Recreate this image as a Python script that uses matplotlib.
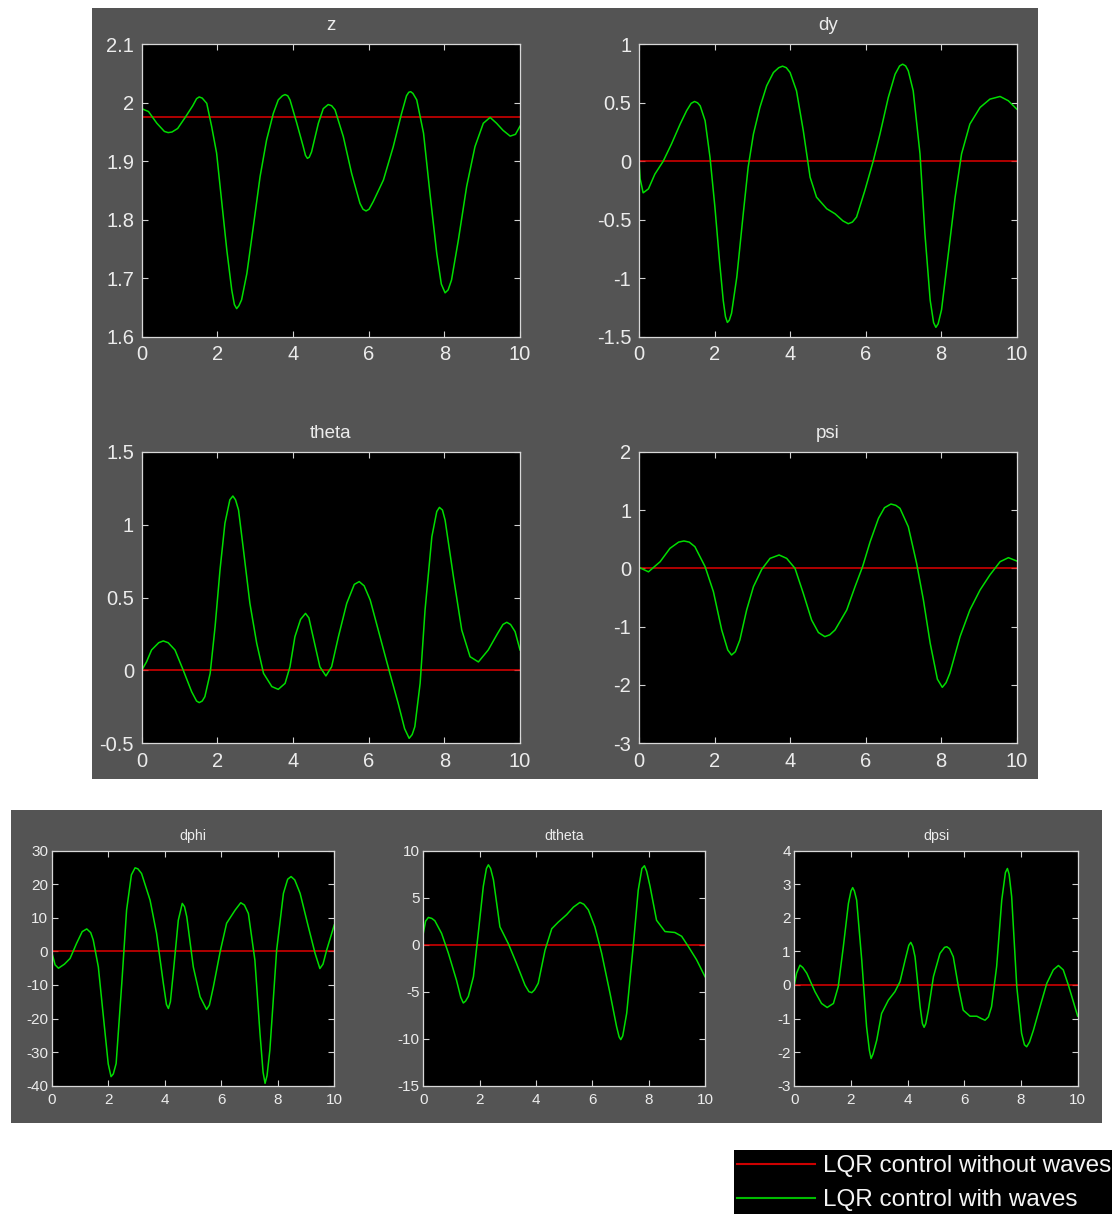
import matplotlib.pyplot as plt
from matplotlib.patches import Rectangle
from matplotlib.lines import Line2D
from matplotlib.ticker import FormatStrFormatter

plt.rcParams['font.family'] = ['Liberation Sans', 'DejaVu Sans']
plt.rcParams['axes.unicode_minus'] = False

# ---- data: (time s, value) ----
z_pts = [(0, 1.990), (0.18, 1.985), (0.40, 1.965), (0.60, 1.951), (0.70, 1.949), (0.80, 1.950), (0.95, 1.956), (1.15, 1.975),
         (1.35, 1.995), (1.45, 2.007), (1.52, 2.010), (1.60, 2.008), (1.72, 1.999), (1.85, 1.959), (1.98, 1.914), (2.11, 1.834),
         (2.25, 1.748), (2.38, 1.680), (2.45, 1.655), (2.51, 1.648), (2.57, 1.653), (2.64, 1.663), (2.78, 1.708), (2.95, 1.788),
         (3.13, 1.874), (3.30, 1.936), (3.48, 1.982), (3.61, 2.005), (3.72, 2.012), (3.79, 2.014), (3.86, 2.012), (3.92, 2.005),
         (4.10, 1.965), (4.27, 1.925), (4.33, 1.910), (4.38, 1.905), (4.43, 1.907), (4.49, 1.916), (4.67, 1.965), (4.80, 1.990),
         (4.93, 1.997), (5.02, 1.995), (5.11, 1.988), (5.33, 1.942), (5.55, 1.879), (5.77, 1.828), (5.85, 1.818), (5.93, 1.815),
         (6.01, 1.818), (6.12, 1.831), (6.39, 1.868), (6.65, 1.925), (6.87, 1.982), (7.00, 2.012), (7.06, 2.018), (7.11, 2.019),
         (7.17, 2.016), (7.27, 2.005), (7.45, 1.948), (7.62, 1.845), (7.80, 1.742), (7.92, 1.690), (8.02, 1.675), (8.10, 1.680),
         (8.19, 1.697), (8.37, 1.765), (8.59, 1.857), (8.81, 1.925), (9.03, 1.965), (9.21, 1.975), (9.38, 1.965), (9.55, 1.953),
         (9.74, 1.943), (9.88, 1.946), (10, 1.960)]

dy_pts = [(0, 0), (0.03, -0.15), (0.11, -0.27), (0.25, -0.236), (0.42, -0.11), (0.64, 0), (0.86, 0.148), (1.09, 0.318),
          (1.26, 0.432), (1.38, 0.495), (1.47, 0.511), (1.55, 0.500), (1.62, 0.474), (1.75, 0.347), (1.88, 0.034), (2.01, -0.392),
          (2.13, -0.847), (2.23, -1.19), (2.29, -1.33), (2.34, -1.378), (2.39, -1.36), (2.45, -1.30), (2.59, -0.989), (2.76, -0.449),
          (2.89, -0.051), (3.03, 0.233), (3.20, 0.460), (3.38, 0.645), (3.56, 0.759), (3.70, 0.800), (3.80, 0.813), (3.90, 0.800),
          (4.00, 0.759), (4.17, 0.602), (4.35, 0.261), (4.53, -0.136), (4.70, -0.307), (4.97, -0.406), (5.19, -0.449), (5.40, -0.51),
          (5.54, -0.534), (5.65, -0.52), (5.76, -0.477), (5.98, -0.25), (6.20, 0), (6.38, 0.233), (6.60, 0.545), (6.78, 0.744),
          (6.90, 0.815), (6.98, 0.830), (7.06, 0.815), (7.13, 0.773), (7.26, 0.602), (7.44, 0.063), (7.57, -0.619), (7.71, -1.19),
          (7.80, -1.38), (7.86, -1.42), (7.92, -1.39), (8.01, -1.27), (8.19, -0.79), (8.37, -0.307), (8.54, 0.063), (8.76, 0.318),
          (9.03, 0.460), (9.29, 0.531), (9.56, 0.554), (9.78, 0.517), (10, 0.446)]

theta_pts = [(0, 0), (0.13, 0.06), (0.26, 0.14), (0.45, 0.19), (0.57, 0.202), (0.70, 0.19), (0.88, 0.14), (1.10, 0.0),
             (1.32, -0.146), (1.45, -0.21), (1.52, -0.221), (1.60, -0.21), (1.67, -0.18), (1.81, -0.02), (1.94, 0.30), (2.07, 0.689),
             (2.20, 1.009), (2.33, 1.17), (2.41, 1.196), (2.48, 1.17), (2.56, 1.10), (2.69, 0.826), (2.86, 0.46), (3.04, 0.186),
             (3.22, -0.02), (3.44, -0.111), (3.61, -0.13), (3.79, -0.089), (3.92, 0.025), (4.05, 0.231), (4.20, 0.35), (4.33, 0.391),
             (4.42, 0.36), (4.49, 0.277), (4.71, 0.025), (4.87, -0.038), (5.02, 0.025), (5.20, 0.231), (5.42, 0.46), (5.62, 0.59),
             (5.75, 0.609), (5.88, 0.58), (6.04, 0.483), (6.30, 0.231), (6.56, -0.02), (6.78, -0.226), (6.95, -0.40), (7.07, -0.466),
             (7.15, -0.44), (7.22, -0.386), (7.36, -0.089), (7.49, 0.414), (7.67, 0.917), (7.80, 1.09), (7.87, 1.118), (7.95, 1.10),
             (8.02, 1.031), (8.24, 0.643), (8.46, 0.277), (8.68, 0.094), (8.90, 0.058), (9.16, 0.14), (9.40, 0.25), (9.55, 0.315),
             (9.65, 0.330), (9.75, 0.315), (9.87, 0.266), (10, 0.14)]

psi_pts = [(0, 0.017), (0.25, -0.06), (0.56, 0.114), (0.82, 0.343), (1.05, 0.45), (1.19, 0.469), (1.33, 0.45), (1.48, 0.371),
           (1.75, 0.029), (1.97, -0.40), (2.19, -1.057), (2.35, -1.40), (2.45, -1.486), (2.55, -1.43), (2.67, -1.229), (2.85, -0.714),
           (3.03, -0.314), (3.25, -0.017), (3.47, 0.171), (3.71, 0.229), (3.91, 0.171), (4.13, 0.0), (4.35, -0.429), (4.57, -0.886),
           (4.75, -1.10), (4.92, -1.171), (5.05, -1.14), (5.19, -1.057), (5.50, -0.714), (5.72, -0.314), (5.92, 0.029), (6.12, 0.457),
           (6.34, 0.857), (6.50, 1.04), (6.67, 1.103), (6.80, 1.08), (6.91, 1.029), (7.13, 0.714), (7.35, 0.086), (7.53, -0.543),
           (7.71, -1.286), (7.90, -1.90), (8.03, -2.04), (8.13, -1.96), (8.23, -1.80), (8.50, -1.171), (8.76, -0.714), (9.03, -0.371),
           (9.29, -0.114), (9.56, 0.114), (9.78, 0.183), (10, 0.126)]

dphi_pts = [(0, -0.1), (0.12, -4.0), (0.24, -5.0), (0.45, -3.8), (0.65, -2.1), (0.88, 2.4), (1.08, 5.9), (1.24, 6.7),
            (1.38, 5.6), (1.47, 3.4), (1.65, -4.6), (1.83, -19.5), (2.00, -33.5), (2.10, -37.3), (2.18, -36.5), (2.28, -33.4),
            (2.48, -9.5), (2.65, 12.3), (2.82, 22.8), (2.95, 24.9), (3.05, 24.6), (3.18, 23.2), (3.48, 15.3), (3.71, 5.4),
            (3.95, -9.5), (4.06, -15.8), (4.13, -17.0), (4.20, -15.0), (4.30, -6.6), (4.48, 9.3), (4.62, 14.3), (4.70, 13.3),
            (4.78, 10.3), (5.01, -4.6), (5.25, -13.5), (5.48, -17.3), (5.58, -16.0), (5.72, -10.6), (5.96, -0.1), (6.19, 8.4),
            (6.49, 12.3), (6.69, 14.5), (6.82, 13.8), (6.96, 11.3), (7.19, -2.6), (7.37, -24.4), (7.48, -36.0), (7.55, -39.3),
            (7.62, -37.0), (7.72, -29.4), (7.96, 0.4), (8.20, 17.3), (8.35, 21.5), (8.47, 22.3), (8.60, 21.3), (8.79, 17.3),
            (9.08, 7.4), (9.32, -0.6), (9.49, -5.1), (9.60, -3.8), (9.73, 0.4), (10, 7.9)]

dtheta_pts = [(0, 1.2), (0.08, 2.5), (0.18, 2.9), (0.30, 2.8), (0.41, 2.55), (0.65, 1.2), (0.89, -0.9), (1.18, -3.8),
              (1.33, -5.6), (1.42, -6.2), (1.50, -6.0), (1.60, -5.5), (1.78, -3.4), (1.95, 1.2), (2.13, 6.2), (2.24, 8.1),
              (2.31, 8.5), (2.39, 8.1), (2.49, 6.9), (2.72, 1.9), (3.02, 0.1), (3.31, -2.0), (3.61, -4.3), (3.75, -5.0),
              (3.85, -5.1), (3.95, -4.8), (4.08, -4.1), (4.32, -0.6), (4.56, 1.7), (4.79, 2.4), (5.09, 3.2), (5.33, 4.0),
              (5.56, 4.5), (5.70, 4.3), (5.86, 3.7), (6.09, 1.9), (6.33, -0.9), (6.63, -5.2), (6.86, -8.7), (6.95, -9.8),
              (7.01, -10.1), (7.08, -9.7), (7.22, -7.3), (7.46, 0.1), (7.63, 5.8), (7.76, 8.1), (7.85, 8.4), (7.93, 7.8),
              (8.05, 6.2), (8.28, 2.6), (8.58, 1.4), (8.93, 1.3), (9.17, 0.9), (9.41, -0.2), (9.70, -1.6), (10, -3.4)]

dpsi_pts = [(0, 0), (0.08, 0.35), (0.20, 0.59), (0.30, 0.52), (0.44, 0.35), (0.73, -0.2), (0.96, -0.55), (1.16, -0.67),
            (1.38, -0.55), (1.55, -0.05), (1.73, 1.14), (1.91, 2.43), (2.00, 2.80), (2.06, 2.90), (2.12, 2.80), (2.20, 2.53),
            (2.38, 0.74), (2.55, -1.24), (2.65, -1.95), (2.71, -2.19), (2.78, -2.05), (2.91, -1.64), (3.08, -0.85), (3.32, -0.45),
            (3.55, -0.2), (3.73, 0.1), (3.91, 0.74), (4.04, 1.18), (4.11, 1.27), (4.18, 1.15), (4.26, 0.84), (4.44, -0.65),
            (4.52, -1.15), (4.58, -1.26), (4.64, -1.15), (4.73, -0.75), (4.91, 0.25), (5.14, 0.94), (5.30, 1.12), (5.38, 1.14),
            (5.48, 1.08), (5.61, 0.84), (5.79, -0.05), (5.96, -0.75), (6.20, -0.93), (6.44, -0.93), (6.60, -1.0), (6.73, -1.05),
            (6.85, -0.95), (6.96, -0.65), (7.14, 0.55), (7.32, 2.53), (7.45, 3.35), (7.52, 3.47), (7.58, 3.30), (7.67, 2.63),
            (7.85, -0.05), (8.02, -1.44), (8.12, -1.78), (8.20, -1.84), (8.30, -1.70), (8.44, -1.34), (8.67, -0.65), (8.91, 0.05),
            (9.14, 0.45), (9.32, 0.58), (9.49, 0.45), (9.67, 0), (10, -0.93)]

# reference (no waves) levels
ref_levels = {'z': 1.976, 'dy': 0, 'theta': 0, 'psi': 0, 'dphi': 0, 'dtheta': 0, 'dpsi': 0}
labels = ['LQR control without waves', 'LQR control with waves']

W, H = 1112, 1214
fig = plt.figure(figsize=(W / 100, H / 100), dpi=100, facecolor='white')


def box(x0, y0, x1, y1):
    # pixel box (top-left origin) -> figure fraction
    return [x0 / W, 1 - y1 / H, (x1 - x0) / W, (y1 - y0) / H]


def bg(x0, y0, x1, y1, color):
    b = box(x0, y0, x1, y1)
    fig.patches.append(Rectangle((b[0], b[1]), b[2], b[3], transform=fig.transFigure,
                                 facecolor=color, edgecolor='none', zorder=-5))


# dark gray figure windows
bg(92, 8, 1038, 779, '#545454')
bg(11, 810, 1102, 1123, '#545454')

RED = '#e00000'
GREEN = '#00dd00'


def panel(pos, name, pts, ylim, yticks, big=True):
    ax = fig.add_axes(box(*pos))
    ax.set_facecolor('black')
    ref = ref_levels[name]
    t, y = zip(*pts)
    ax.plot([0, 10], [ref, ref], color=RED, lw=1.1)
    ax.plot(t, y, color=GREEN, lw=1.1)
    ax.set_xlim(0, 10)
    ax.set_ylim(ylim)
    ax.set_xticks(range(0, 11, 2))
    ax.set_yticks(yticks)
    ax.yaxis.set_major_formatter(FormatStrFormatter('%g'))
    fs = 14.5 if big else 11
    ax.tick_params(direction='in', top=True, right=True, colors='#d0d0d0', labelcolor='#ececec',
                   labelsize=fs, length=4, width=0.8)
    ax.tick_params(axis='x', pad=6 if big else 5)
    ax.tick_params(axis='y', pad=5.5 if big else 2.5)
    for s in ax.spines.values():
        s.set_color('#d8d8d8')
        s.set_linewidth(0.9)
    ax.set_title(name, color='#ececec', fontsize=13.5 if big else 10.2, pad=10 if big else 7.5)


panel((141.7, 44.3, 520, 336.7), 'z', z_pts, (1.6, 2.1), [1.6, 1.7, 1.8, 1.9, 2.0, 2.1])
panel((639, 44.3, 1016.7, 336.7), 'dy', dy_pts, (-1.5, 1), [-1.5, -1, -0.5, 0, 0.5, 1])
panel((141.7, 451.7, 520, 743.3), 'theta', theta_pts, (-0.5, 1.5), [-0.5, 0, 0.5, 1, 1.5])
panel((639, 451.7, 1016.7, 743.3), 'psi', psi_pts, (-3, 2), [-3, -2, -1, 0, 1, 2])
panel((51.7, 850.7, 334.3, 1085.7), 'dphi', dphi_pts, (-40, 30), range(-40, 31, 10), big=False)
panel((423.3, 850.7, 705, 1085.7), 'dtheta', dtheta_pts, (-15, 10), range(-15, 11, 5), big=False)
panel((794.3, 850.7, 1077.7, 1085.7), 'dpsi', dpsi_pts, (-3, 4), range(-3, 5), big=False)

# legend box, bottom right
bg(734, 1150, 1112, 1214, 'black')
for yy, col, lab in [(1164, '#cc0000', labels[0]), (1198, '#00bb00', labels[1])]:
    fig.add_artist(Line2D([737 / W, 815 / W], [1 - yy / H, 1 - yy / H], color=col, lw=1.5,
                          transform=fig.transFigure))
    fig.text(823 / W, 1 - (yy + 2) / H, lab, color='#f4f4f4', fontsize=17.5, va='center', ha='left')

fig.savefig('out.png', dpi=100, facecolor='white')
